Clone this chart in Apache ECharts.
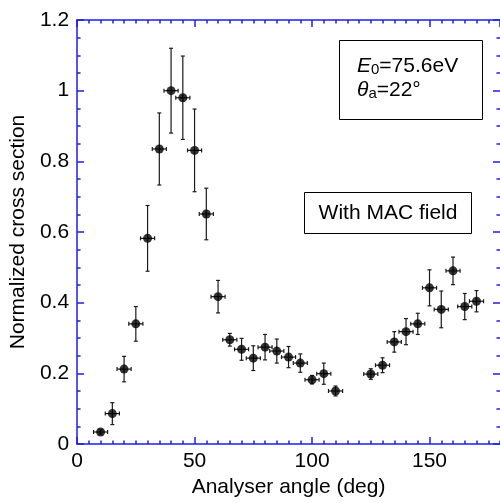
<!DOCTYPE html>
<html>
<head>
<meta charset="utf-8">
<script src="https://cdn.jsdelivr.net/npm/echarts@6/dist/echarts.min.js"></script>
<style>
  html, body { margin: 0; padding: 0; background: #fff; }
  #chart { width: 500px; height: 503px; }
</style>
</head>
<body>
<div id="chart"></div>
<script>
// Analyser angle (deg) of each measurement
const angles = [10, 15, 20, 25, 30, 35, 40, 45, 50, 55, 60, 65, 70, 75, 80, 85, 90, 95, 100, 105, 110,
                125, 130, 135, 140, 145, 150, 155, 160, 165, 170];
// Normalized cross section
const crossSection = [0.034, 0.086, 0.212, 0.340, 0.582, 0.835, 1.000, 0.980, 0.831, 0.651, 0.417,
                      0.295, 0.268, 0.243, 0.274, 0.263, 0.246, 0.229, 0.182, 0.199, 0.150,
                      0.198, 0.223, 0.289, 0.318, 0.340, 0.442, 0.381, 0.490, 0.389, 0.404];
// Vertical error (half-length)
const crossSectionErr = [0.006, 0.031, 0.036, 0.049, 0.093, 0.102, 0.120, 0.118, 0.117, 0.073, 0.046,
                         0.018, 0.031, 0.035, 0.036, 0.034, 0.030, 0.026, 0.012, 0.030, 0.014,
                         0.015, 0.021, 0.029, 0.037, 0.030, 0.051, 0.052, 0.039, 0.037, 0.030];
// Horizontal error (angular resolution, deg)
const angleErr = [3, 3, 3, 3, 3, 3, 3, 3, 3, 3, 3, 3, 3, 3, 3, 3, 3, 3, 3, 3, 3,
                  3, 3, 3, 3, 3, 3, 3, 3, 3, 3];

const xTicks = { min: 0, max: 180, major: 50, minor: 5 };
const yTicks = { min: 0, max: 1.2, major: 0.2, minorSplit: 4 };

const FONT = '"Liberation Sans", Arial, Helvetica, sans-serif';
const AXIS_BLUE = '#1f1fe8';
const BAR_COLOR = '#1a1a1a';

const points = angles.map((a, i) => [a, crossSection[i], angleErr[i], crossSectionErr[i]]);

const chart = echarts.init(document.getElementById('chart'), null, { renderer: 'canvas' });

function xAxisDef(position, major) {
  return {
    type: 'value',
    position: position,
    min: xTicks.min,
    max: xTicks.max,
    interval: major ? xTicks.major : xTicks.minor,
    axisLine: { show: major, onZero: false, lineStyle: { color: AXIS_BLUE, width: 1.5 } },
    axisTick: { show: true, inside: true, length: major ? 7 : 3.5, lineStyle: { color: AXIS_BLUE, width: 1.5 } },
    axisLabel: {
      show: major && position === 'bottom',
      showMaxLabel: false,
      margin: 7,
      fontSize: 21,
      fontFamily: FONT,
      color: '#000'
    },
    splitLine: { show: false },
    name: major && position === 'bottom' ? 'Analyser angle (deg)' : '',
    nameLocation: 'middle',
    nameGap: 33,
    nameTextStyle: { fontSize: 21, fontFamily: FONT, color: '#000' }
  };
}

function yAxisDef(position) {
  const left = position === 'left';
  return {
    type: 'value',
    position: position,
    min: yTicks.min,
    max: yTicks.max,
    interval: yTicks.major,
    axisLine: { show: left, onZero: false, lineStyle: { color: AXIS_BLUE, width: 1.5 } },
    axisTick: { show: true, inside: true, length: 7, lineStyle: { color: AXIS_BLUE, width: 1.5 } },
    minorTick: { show: true, splitNumber: yTicks.minorSplit, length: 3.5, lineStyle: { color: AXIS_BLUE, width: 1.5 } },
    axisLabel: {
      show: left,
      margin: 8,
      fontSize: 21,
      fontFamily: FONT,
      color: '#000'
    },
    splitLine: { show: false },
    minorSplitLine: { show: false },
    name: left ? 'Normalized cross section' : '',
    nameLocation: 'middle',
    nameGap: 47,
    nameTextStyle: { fontSize: 21, fontFamily: FONT, color: '#000' }
  };
}

const option = {
  backgroundColor: '#fff',
  animation: false,
  grid: { left: 77, top: 20, width: 425, height: 426, containLabel: false },
  xAxis: [
    xAxisDef('bottom', true),
    xAxisDef('bottom', false),
    xAxisDef('top', true),
    xAxisDef('top', false)
  ],
  yAxis: [yAxisDef('left'), yAxisDef('right')],
  series: [
    {
      type: 'custom',
      xAxisIndex: 0,
      yAxisIndex: 0,
      data: points,
      z: 2,
      renderItem: function (params, api) {
        const x = api.value(0), y = api.value(1), ex = api.value(2), ey = api.value(3);
        const c = api.coord([x, y]);
        const top = api.coord([x, y + ey])[1];
        const bot = api.coord([x, y - ey])[1];
        const lft = api.coord([x - ex, y])[0];
        const rgt = api.coord([x + ex, y])[0];
        const cap = 2;
        const style = { stroke: BAR_COLOR, lineWidth: 1.2, fill: null };
        const seg = (x1, y1, x2, y2) => ({ type: 'line', shape: { x1, y1, x2, y2 }, style });
        return {
          type: 'group',
          children: [
            seg(c[0], top, c[0], bot),
            seg(c[0] - cap, top, c[0] + cap, top),
            seg(c[0] - cap, bot, c[0] + cap, bot),
            seg(lft, c[1], rgt, c[1]),
            seg(lft, c[1] - cap, lft, c[1] + cap),
            seg(rgt, c[1] - cap, rgt, c[1] + cap)
          ]
        };
      }
    },
    {
      type: 'scatter',
      xAxisIndex: 0,
      yAxisIndex: 0,
      data: points.map(p => [p[0], p[1]]),
      symbol: 'circle',
      symbolSize: 9,
      itemStyle: { color: '#000' },
      z: 3
    }
  ],
  graphic: [
    {
      type: 'rect',
      shape: { x: 339.5, y: 40.5, width: 143, height: 79 },
      style: { fill: '#fff', stroke: '#000', lineWidth: 1 },
      z: 10
    },
    {
      type: 'text',
      x: 357, y: 65,
      style: {
        text: '{i|E}{s|0}{n|=75.6eV}',
        verticalAlign: 'middle',
        rich: {
          i: { fontSize: 21, fontStyle: 'italic', fontFamily: FONT, lineHeight: 24, verticalAlign: 'bottom' },
          s: { fontSize: 15, fontFamily: FONT, lineHeight: 8, verticalAlign: 'bottom' },
          n: { fontSize: 21, fontFamily: FONT, lineHeight: 24, verticalAlign: 'bottom' }
        },
        fill: '#000'
      },
      z: 11
    },
    {
      type: 'text',
      x: 357, y: 89,
      style: {
        text: '{i|θ}{s|a}{n|=22°}',
        verticalAlign: 'middle',
        rich: {
          i: { fontSize: 21, fontStyle: 'italic', fontFamily: FONT, lineHeight: 24, verticalAlign: 'bottom' },
          s: { fontSize: 15, fontFamily: FONT, lineHeight: 8, verticalAlign: 'bottom' },
          n: { fontSize: 21, fontFamily: FONT, lineHeight: 24, verticalAlign: 'bottom' }
        },
        fill: '#000'
      },
      z: 11
    },
    {
      type: 'rect',
      shape: { x: 304.5, y: 192.5, width: 167, height: 41 },
      style: { fill: '#fff', stroke: '#000', lineWidth: 1 },
      z: 10
    },
    {
      type: 'text',
      x: 388, y: 213,
      style: {
        text: 'With MAC field',
        font: '21px ' + FONT,
        align: 'center',
        verticalAlign: 'middle',
        fill: '#000'
      },
      z: 11
    }
  ]
};

chart.setOption(option);
</script>
</body>
</html>
